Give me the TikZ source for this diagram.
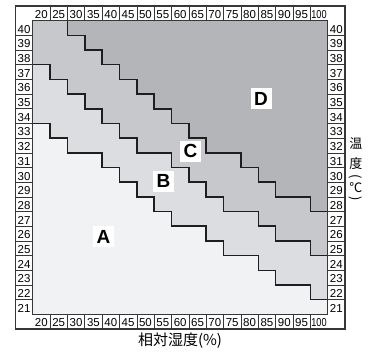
\documentclass[tikz,border=0pt]{standalone}
\usepackage{fontspec}
\setmainfont{Liberation Sans}
\newfontfamily\jpfont{Noto Sans CJK JP}
\usepackage{graphicx}

\definecolor{zoneA}{RGB}{241,242,244}
\definecolor{zoneB}{RGB}{220,221,224}
\definecolor{zoneC}{RGB}{199,200,203}
\definecolor{zoneD}{RGB}{180,181,185}
\definecolor{stairBlack}{RGB}{30,30,30}
\definecolor{frameGray}{RGB}{55,55,55}

\begin{document}
\begin{tikzpicture}[
    x=17.35pt, y=-14.68pt,
    frame/.style={draw=frameGray, line width=1.1pt},
    cell line/.style={draw=frameGray, line width=0.6pt},
    stair/.style={draw=stairBlack, line width=1.5pt},
    cell label/.style={font=\fontsize{11.5}{13}\selectfont, inner sep=0pt, yshift=-1.2pt},
    zone label/.style={fill=white, minimum size=21pt, inner sep=0pt, font=\fontsize{19}{21}\selectfont\bfseries},
    axis label/.style={font=\fontsize{13}{15}\selectfont\jpfont, inner sep=0pt}
]
\useasboundingbox (-32.7pt,20.7pt) rectangle (341.3pt,-330.3pt);

% Zones
\fill[zoneA] (0,0) rectangle (17,20);
\filldraw[fill=zoneB, stair] (0,7) -- (1,7) |- (2,8) |- (4,9) |- (5,10) |- (6,11) |- (7,12) |- (8,13) |- (10,14) |- (11,15) |- (13,16) |- (14,17) |- (16,18) |- (17,19) -- (17,0) -- (0,0) -- cycle;
\filldraw[fill=zoneC, stair] (0,3) -- (1,3) |- (2,4) |- (3,5) |- (4,6) |- (5,7) |- (6,8) |- (8,9) |- (9,10) |- (10,11) |- (11,12) |- (13,13) |- (14,14) |- (16,15) |- (17,16) -- (17,0) -- (0,0) -- cycle;
\filldraw[fill=zoneD, stair] (2,0) |- (3,1) |- (4,2) |- (5,3) |- (6,4) |- (7,5) |- (8,6) |- (9,7) |- (10,8) |- (12,9) |- (13,10) |- (14,11) |- (16,12) |- (17,13) -- (17,0) -- cycle;

% Header cells
\foreach \k in {1,...,16} {
    \draw[cell line] (\k,-1) -- (\k,0) (\k,20) -- (\k,21);
}
\foreach \r in {1,...,19} {
    \draw[cell line] (-1,\r) -- (0,\r) (17,\r) -- (18,\r);
}
\draw[frame] (0,0) rectangle (17,20);
\draw[frame] (-1,-1) rectangle (18,21);

% Humidity and temperature values
\foreach \h [count=\k from 0] in {20,25,...,100} {
    \node[cell label] (top\h) at (\k+0.5,-0.5) {\ifnum\h=100 \scalebox{.8}[1]{\h}\else\h\fi};
    \node[cell label] (bottom\h) at (\k+0.5,20.5) {\ifnum\h=100 \scalebox{.8}[1]{\h}\else\h\fi};
}
\foreach \t [count=\r from 0] in {40,39,...,21} {
    \node[cell label] (left\t) at (-0.5,\r+0.5) {\t};
    \node[cell label] (right\t) at (17.5,\r+0.5) {\t};
}

% Zone letters
\node[zone label] (labelA) at (4.08,14.73) {A};
\node[zone label] (labelB) at (7.54,10.92) {B};
\node[zone label] (labelC) at (9.09,8.88) {C};
\node[zone label] (labelD) at (13.16,5.33) {D};

% Axis titles
\node[axis label, font=\fontsize{15}{17}\selectfont\jpfont] (humidity) at (8.49,21.82) {相対湿度(\%)};
\node[axis label] (temp1) at (18.63,8.40) {温};
\node[axis label] (temp2) at (18.63,9.76) {度};
\node[axis label, rotate=-90] (temp3) at (18.63,10.65) {(};
\node[axis label] (temp4) at (18.63,11.40) {℃};
\node[axis label, rotate=-90] (temp5) at (18.63,12.15) {)};

\end{tikzpicture}
\end{document}
